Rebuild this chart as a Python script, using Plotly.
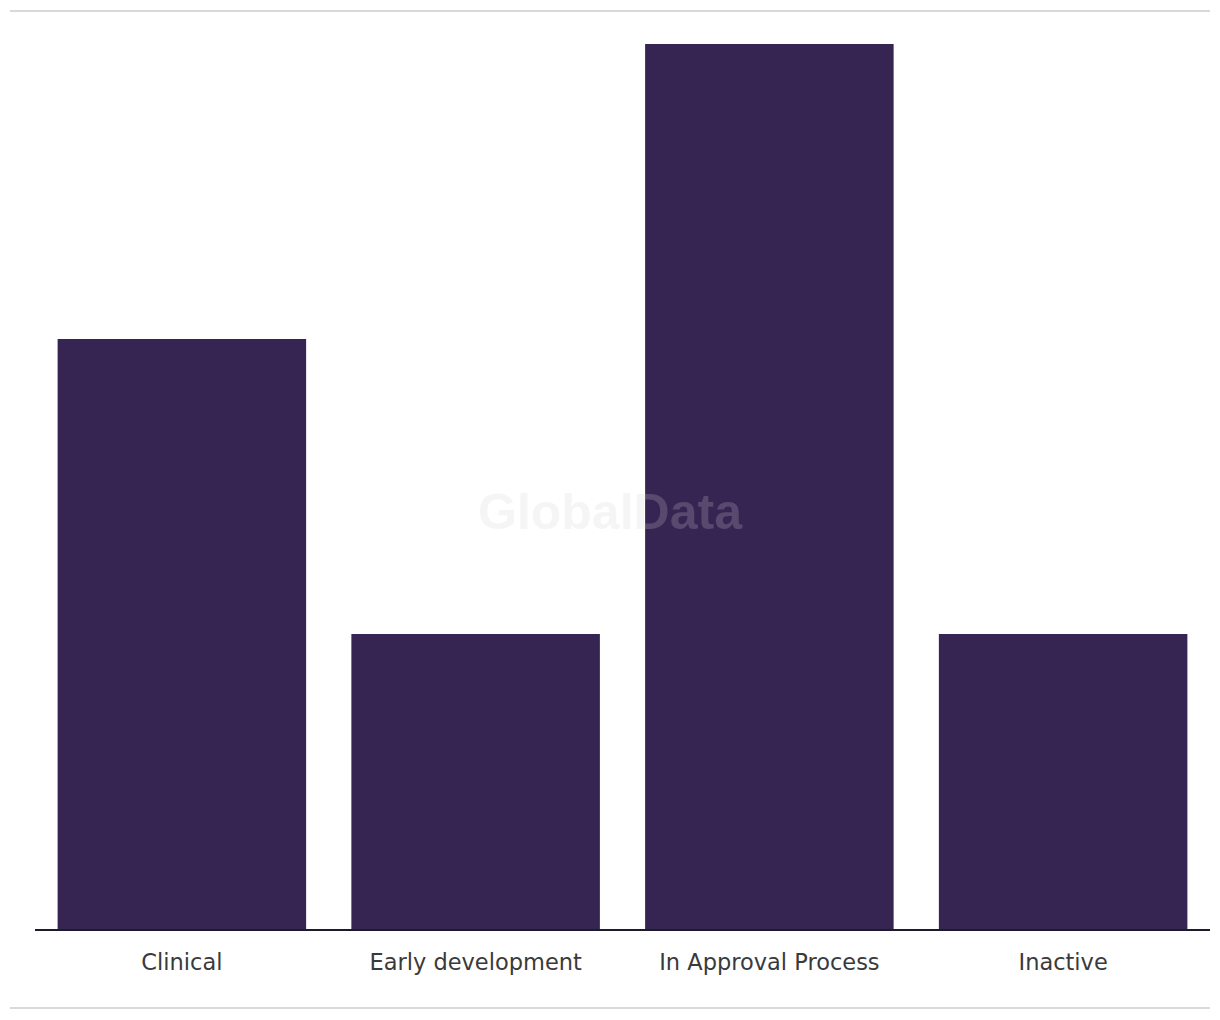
import plotly.graph_objects as go

categories = ["Clinical", "Early development", "In Approval Process", "Inactive"]
values = [2, 1, 3, 1]

BAR_COLOR = "#362452"

fig = go.Figure(
    go.Bar(
        x=categories,
        y=values,
        marker=dict(color=BAR_COLOR, line=dict(width=0)),
        hoverinfo="x+y",
    )
)

W, H = 1220, 1020
ml, mr, mt, mb = 35, 10, 44, 91
pw, ph = W - ml - mr, H - mt - mb

def px_x(x):
    return (x - ml) / pw

def px_y(y):
    return (H - mb - y) / ph

fig.update_layout(
    width=W,
    height=H,
    margin=dict(l=ml, r=mr, t=mt, b=mb, pad=0),
    paper_bgcolor="white",
    plot_bgcolor="white",
    bargap=0.154,
    showlegend=False,
    font=dict(family="DejaVu Sans, sans-serif", color="#3a3a3a", size=22),
    xaxis=dict(
        showline=True,
        linecolor="#1b1b2b",
        linewidth=2,
        ticks="",
        showgrid=False,
        ticklabelstandoff=12,
        tickfont=dict(family="DejaVu Sans, sans-serif", size=22.5, color="#3a3a3a"),
    ),
    yaxis=dict(
        range=[0, 3],
        visible=False,
        showgrid=False,
        zeroline=False,
    ),
    shapes=[
        dict(type="line", xref="paper", yref="paper",
             x0=px_x(10), x1=px_x(1210), y0=px_y(11), y1=px_y(11),
             line=dict(color="#d9d9d9", width=2)),
        dict(type="line", xref="paper", yref="paper",
             x0=px_x(10), x1=px_x(1210), y0=px_y(1008), y1=px_y(1008),
             line=dict(color="#d9d9d9", width=2)),
    ],
    annotations=[
        dict(text="<b>GlobalData</b>", xref="paper", yref="paper",
             x=px_x(610), y=px_y(512), showarrow=False,
             font=dict(family="Liberation Sans, Arial, sans-serif", size=50,
                       color="rgba(210,210,210,0.22)")),
    ],
)

fig.write_html("out.html")
